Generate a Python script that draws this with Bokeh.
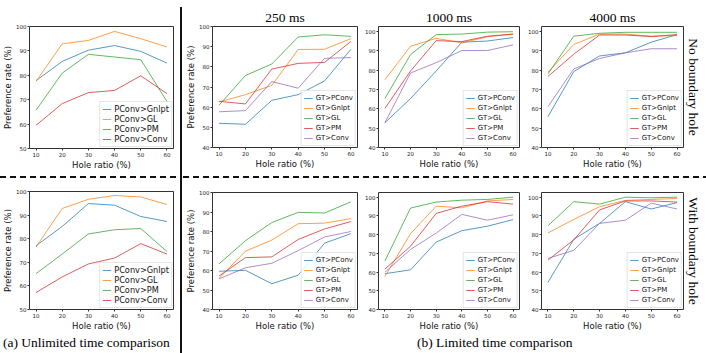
from bokeh.plotting import figure
from bokeh.layouts import row, column
from bokeh.models import Div, Spacer, FixedTicker, Range1d, Title
from bokeh.embed import file_html
from bokeh.resources import INLINE

hole_ratio = [10, 20, 30, 40, 50, 60]

# (a) Unlimited time comparison
a_labels = ["PConv>Gnlpt", "PConv>GL", "PConv>PM", "PConv>Conv"]
a_nb_gnlpt = [77.8, 85.7, 90.3, 92.2, 89.8, 85.0]
a_nb_gl = [77.5, 92.9, 94.3, 98.0, 95.0, 91.6]
a_nb_pm = [65.7, 80.9, 88.6, 87.5, 86.4, 69.3]
a_nb_conv = [59.5, 68.4, 72.9, 73.8, 79.8, 72.5]

a_wb_gnlpt = [77.0, 85.2, 94.9, 94.2, 89.4, 87.3]
a_wb_gl = [76.5, 92.8, 96.7, 98.3, 97.7, 94.5]
a_wb_pm = [65.2, 73.5, 82.0, 83.8, 84.3, 74.6]
a_wb_conv = [57.2, 63.8, 69.3, 71.8, 77.9, 73.5]

# (b) Limited time comparison
b_labels = ["GT>PConv", "GT>Gnlpt", "GT>GL", "GT>PM", "GT>Conv"]
t250_nb_pconv = [52.0, 51.5, 63.4, 66.2, 73.0, 88.7]
t250_nb_gnlpt = [62.6, 66.2, 70.8, 88.6, 88.7, 94.0]
t250_nb_gl = [61.0, 75.7, 81.4, 94.8, 95.9, 95.1]
t250_nb_pm = [62.9, 61.6, 78.9, 81.7, 82.2, 92.6]
t250_nb_conv = [57.7, 58.3, 72.7, 69.4, 84.2, 84.6]

t1000_nb_pconv = [52.8, 65.3, 79.5, 94.4, 95.0, 96.8]
t1000_nb_gnlpt = [75.0, 92.3, 96.4, 94.0, 97.2, 98.5]
t1000_nb_gl = [65.3, 88.0, 98.3, 98.6, 99.6, 99.8]
t1000_nb_pm = [60.2, 79.5, 95.2, 94.7, 97.5, 98.6]
t1000_nb_conv = [52.8, 78.5, 83.8, 90.1, 90.1, 93.0]

t4000_nb_pconv = [55.9, 79.2, 87.3, 88.9, 94.4, 98.3]
t4000_nb_gnlpt = [78.9, 93.2, 98.6, 98.6, 97.5, 97.8]
t4000_nb_gl = [78.0, 97.5, 99.0, 99.5, 99.5, 99.5]
t4000_nb_pm = [76.7, 88.2, 98.1, 98.1, 97.3, 98.3]
t4000_nb_conv = [61.1, 80.6, 86.0, 88.9, 91.0, 91.0]

t250_wb_pconv = [59.6, 60.1, 53.2, 57.6, 74.0, 78.9]
t250_wb_gnlpt = [56.0, 69.9, 75.6, 84.0, 84.3, 86.6]
t250_wb_gl = [63.4, 75.3, 84.6, 89.8, 89.5, 95.2]
t250_wb_pm = [57.2, 66.6, 67.0, 75.9, 81.3, 85.1]
t250_wb_conv = [55.7, 61.4, 63.7, 70.2, 77.2, 80.0]

t1000_wb_pconv = [59.1, 61.2, 76.0, 82.1, 84.5, 88.0]
t1000_wb_gnlpt = [57.6, 80.5, 95.2, 94.3, 98.0, 98.8]
t1000_wb_gl = [65.9, 94.2, 97.4, 98.4, 98.8, 100.0]
t1000_wb_pm = [61.6, 73.8, 91.3, 95.2, 97.6, 96.3]
t1000_wb_conv = [59.9, 72.1, 80.8, 90.8, 87.7, 90.6]

t4000_wb_pconv = [54.5, 77.5, 86.0, 97.6, 93.7, 97.1]
t4000_wb_gnlpt = [80.9, 88.1, 94.9, 98.3, 98.8, 99.3]
t4000_wb_gl = [84.7, 97.6, 96.3, 100.0, 99.7, 100.0]
t4000_wb_pm = [66.4, 77.2, 93.2, 98.0, 98.0, 97.4]
t4000_wb_conv = [67.3, 71.6, 86.0, 87.7, 96.8, 93.7]

ticks_a = [50, 60, 70, 80, 90, 100]
ticks_b = [40, 50, 60, 70, 80, 90, 100]

a_colors = ["#1f77b4", "#ff7f0e", "#2ca02c", "#d62728"]
b_colors = ["#1f77b4", "#ff7f0e", "#2ca02c", "#d62728", "#9467bd"]

AX = "#333333"


def make_panel(width, height, left, right, top, bottom, y_lo, y_hi, y_ticks,
               series, labels, colors, ylabel=False, title=None, side=None,
               legend_font="7px"):
    p = figure(width=width, height=height,
               x_range=Range1d(7.5, 62.5), y_range=Range1d(y_lo, y_hi),
               output_backend="svg", toolbar_location=None,
               min_border_left=left, min_border_right=right,
               min_border_top=top, min_border_bottom=bottom, margin=0)
    p.background_fill_color = "white"
    p.border_fill_color = "white"
    p.grid.visible = False
    p.outline_line_color = AX
    p.outline_line_width = 1
    for ax in (p.xaxis[0], p.yaxis[0]):
        ax.axis_line_color = None
        ax.major_tick_out = 2
        ax.major_tick_in = 0
        ax.major_tick_line_color = AX
        ax.minor_tick_line_color = None
        ax.major_label_text_font = "DejaVu Sans"
        ax.major_label_text_font_size = "5.5px"
        ax.major_label_text_color = "#222222"
        ax.major_label_standoff = 1
        ax.axis_label_text_font = "DejaVu Sans"
        ax.axis_label_text_font_size = "8.5px"
        ax.axis_label_text_font_style = "normal"
        ax.axis_label_text_color = "#111111"
        ax.axis_label_standoff = 0
    p.xaxis.ticker = FixedTicker(ticks=hole_ratio)
    p.yaxis.ticker = FixedTicker(ticks=y_ticks)
    p.xaxis.axis_label = "Hole ratio (%)"
    if ylabel:
        p.yaxis.axis_label = "Preference rate (%)"
    for vals, lab, col in zip(series, labels, colors):
        p.line(x=hole_ratio, y=vals, line_color=col, line_width=1,
               line_alpha=0.75, legend_label=lab)
    lg = p.legend[0]
    lg.location = "bottom_right"
    lg.margin = 1
    lg.padding = 2
    lg.spacing = 0
    lg.label_text_font = "DejaVu Sans"
    lg.label_text_font_size = legend_font
    lg.label_text_color = "#111111"
    lg.label_height = 10
    lg.glyph_height = 10
    lg.glyph_width = 9
    lg.label_standoff = 3
    lg.border_line_color = "#cccccc"
    lg.border_line_width = 1
    lg.background_fill_alpha = 0.85
    if title:
        p.title.text = title
        p.title.align = "center"
        p.title.text_font = "Liberation Serif"
        p.title.text_font_size = "13.5px"
        p.title.text_font_style = "normal"
        p.title.text_color = "#000000"
        p.title.standoff = 3
    if side:
        p.add_layout(Title(text=side, align="center", text_font="Liberation Serif",
                           text_font_size="13.5px", text_font_style="normal",
                           text_color="#000000", standoff=4), "right")
    return p


# ---- column (a)
fa_top = make_panel(180, 176, 28, 6, 26, 28, 50, 100, ticks_a,
                    [a_nb_gnlpt, a_nb_gl, a_nb_pm, a_nb_conv], a_labels, a_colors,
                    ylabel=True, legend_font="8.2px")
fa_bot = make_panel(180, 154, 28, 7, 12, 21, 50, 100, ticks_a,
                    [a_wb_gnlpt, a_wb_gl, a_wb_pm, a_wb_conv], a_labels, a_colors,
                    ylabel=True, legend_font="8.2px")

DASH = {"background-image": "linear-gradient(to right, #111 0px, #111 6px, transparent 6px, transparent 10px)",
        "background-size": "10px 2px", "background-repeat": "repeat-x",
        "background-position": "0px 0px"}

dash_a = Div(text="", width=180, height=3, styles=DASH, margin=0)
cap_a = Div(text="(a) Unlimited time comparison", width=180, height=20, margin=0,
            styles={"font-family": "Liberation Serif", "font-size": "13.5px",
                    "line-height": "20px", "white-space": "nowrap",
                    "padding-left": "3px", "color": "#000"})
col_a = column(fa_top, dash_a, fa_bot, cap_a, spacing=0, margin=0)

vline = column(Spacer(width=3, height=7, margin=0),
               Div(text="", width=3, height=346, margin=0,
                   styles={"border-left": "2px solid #111"}), spacing=0, margin=0)

# ---- column (b)
f250_top = make_panel(179, 176, 27, 5, 26, 28, 40, 100, ticks_b,
                      [t250_nb_pconv, t250_nb_gnlpt, t250_nb_gl, t250_nb_pm, t250_nb_conv],
                      b_labels, b_colors, ylabel=True, title="250 ms")
f1000_top = make_panel(163, 176, 12, 6, 24, 29, 40, 102.5, ticks_b,
                       [t1000_nb_pconv, t1000_nb_gnlpt, t1000_nb_gl, t1000_nb_pm, t1000_nb_conv],
                       b_labels, b_colors, title="1000 ms")
f4000_top = make_panel(181, 176, 12, 23, 25, 29, 40, 102.5, ticks_b,
                       [t4000_nb_pconv, t4000_nb_gnlpt, t4000_nb_gl, t4000_nb_pm, t4000_nb_conv],
                       b_labels, b_colors, title="4000 ms", side="No boundary hole")

f250_bot = make_panel(179, 154, 27, 5, 13, 20, 40, 100, ticks_b,
                      [t250_wb_pconv, t250_wb_gnlpt, t250_wb_gl, t250_wb_pm, t250_wb_conv],
                      b_labels, b_colors, ylabel=True)
f1000_bot = make_panel(163, 154, 12, 6, 10, 21, 40, 102.5, ticks_b,
                       [t1000_wb_pconv, t1000_wb_gnlpt, t1000_wb_gl, t1000_wb_pm, t1000_wb_conv],
                       b_labels, b_colors)
f4000_bot = make_panel(181, 154, 12, 23, 10, 21, 40, 102.5, ticks_b,
                       [t4000_wb_pconv, t4000_wb_gnlpt, t4000_wb_gl, t4000_wb_pm, t4000_wb_conv],
                       b_labels, b_colors, side="With boundary hole")

dash_b = Div(text="", width=523, height=3, styles=DASH, margin=0)
cap_b = Div(text="(b) Limited time comparison", width=523, height=20, margin=0,
            styles={"font-family": "Liberation Serif", "font-size": "13.5px",
                    "line-height": "20px", "white-space": "nowrap",
                    "padding-left": "234px", "color": "#000"})
col_b = column(row(f250_top, f1000_top, f4000_top, spacing=0, margin=0),
               dash_b,
               row(f250_bot, f1000_bot, f4000_bot, spacing=0, margin=0),
               cap_b, spacing=0, margin=0)

layout = row(col_a, vline, col_b, spacing=0, margin=0)

open("out.html", "w").write(file_html(layout, INLINE))
